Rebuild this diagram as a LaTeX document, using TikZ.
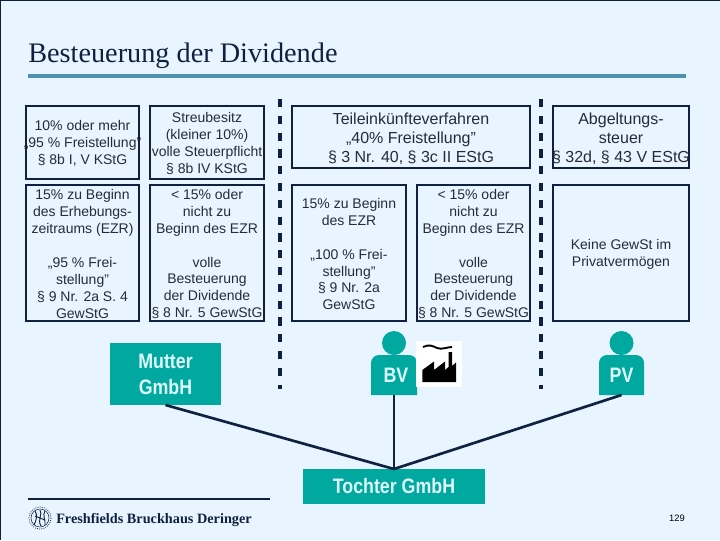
\documentclass[tikz,border=0pt]{standalone}
\usepackage{fontspec}
\setmainfont{Liberation Sans}
\newfontfamily\serifff{Liberation Serif}
\newfontfamily\condff[FakeStretch=0.85]{Liberation Sans}
\definecolor{bgc}{HTML}{E8F4FF}
\definecolor{navy}{HTML}{0E2240}
\definecolor{teal1}{HTML}{00A8A0}
\definecolor{rulec}{HTML}{4F8FAF}
\definecolor{tealtxt}{HTML}{DDFBFB}
\definecolor{txt}{HTML}{252B3A}
\tikzset{
  px/.style={x=0.75pt,y=-0.75pt},
  boxed/.style 2 args={draw=navy,line width=1.6pt,rectangle,inner sep=0pt,outer sep=0pt,minimum width=#1*0.75pt,minimum height=#2*0.75pt},
  lab/.style={align=center,inner sep=0pt,text=txt,yshift=-0.8pt,font=\fontsize{10.5}{12.7}\selectfont},
  labbig/.style={align=center,inner sep=0pt,text=txt,yshift=-1.2pt,font=\fontsize{12}{14.3}\selectfont},
  tealbox/.style 2 args={fill=teal1,inner sep=0pt,outer sep=0pt,minimum width=#1*0.75pt,minimum height=#2*0.75pt,align=center,text=tealtxt,font=\condff\bfseries\fontsize{15.7}{19.5}\selectfont},
  person/.style={fill=teal1,draw=none},
  personbody/.style={inner sep=0pt,outer sep=0pt,minimum width=34.5pt,minimum height=30pt,text=tealtxt,font=\condff\bfseries\fontsize{15.7}{19.5}\selectfont},
  divider/.style={draw=navy,line width=2.3pt,dash pattern=on 6.2pt off 6.4pt},
  conn/.style={draw=navy,line width=2pt},
}
\begin{document}
\begin{tikzpicture}[px]
\useasboundingbox (0,0) rectangle (720,540);
\fill[bgc] (0,0) rectangle (720,540);
\draw[navy,line width=1pt] (0,540) -- (0,0) -- (720,0);
% title
\node[anchor=base west,inner sep=0pt,text=navy,font=\serifff\fontsize{21.2}{25}\selectfont] (title) at (28,62) {Besteuerung der Dividende};
\coordinate (ruleL) at (28,76);
\coordinate (ruleR) at (686,76);
\draw[rulec,line width=2.6pt] (ruleL) -- (ruleR);
% dividers
\coordinate (d1t) at (280,99); \coordinate (d1b) at (280,389);
\coordinate (d2t) at (541,99); \coordinate (d2b) at (541,389);
\draw[divider] (d1t) -- (d1b);
\draw[divider] (d2t) -- (d2b);
% boxes
\node[boxed={113}{73}] (a) at (82.5,142.5) {};
\node[lab] (at) at (a) {10\% oder mehr\\„95 \% Freistellung”\\§ 8b I, V KStG};
\node[boxed={114}{73}] (b) at (207,142.5) {};
\node[lab] (bt) at (b) {Streubesitz\\(kleiner 10\%)\\volle Steuerpflicht\\§ 8b IV KStG};
\node[boxed={113}{136}] (c) at (82.5,253) {};
\node[lab] (ct) at (c) {15\% zu Beginn\\des Erhebungs-\\zeitraums (EZR)\\\mbox{}\\„95 \% Frei-\\stellung”\\§ 9 Nr. 2a S. 4\\GewStG};
\node[boxed={114}{136}] (d) at (207,253) {};
\node[lab] (dt) at (d) {< 15\% oder\\nicht zu\\Beginn des EZR\\\mbox{}\\volle\\Besteuerung\\der Dividende\\§ 8 Nr. 5 GewStG};
\node[boxed={238}{62}] (e) at (411,137) {};
\node[labbig] (et) at (e) {Teileinkünfteverfahren\\„40\% Freistellung”\\§ 3 Nr. 40, § 3c II EStG};
\node[boxed={136}{62}] (f) at (621,137) {};
\node[labbig] (ft) at (f) {Abgeltungs-\\steuer\\§ 32d, § 43 V EStG};
\node[boxed={114}{136}] (g) at (349,253) {};
\node[lab] (gt) at (g) {15\% zu Beginn\\des EZR\\\mbox{}\\„100 \% Frei-\\stellung”\\§ 9 Nr. 2a\\GewStG};
\node[boxed={113}{136}] (h) at (473.5,253) {};
\node[lab] (ht) at (h) {< 15\% oder\\nicht zu\\Beginn des EZR\\\mbox{}\\volle\\Besteuerung\\der Dividende\\§ 8 Nr. 5 GewStG};
\node[boxed={136}{136}] (i) at (621,253) {};
\node[lab] (it) at (i) {Keine GewSt im\\Privatvermögen};
% teal boxes
\node[tealbox={111}{62}] (mutter) at (165.5,374) {Mutter\\GmbH};
\node[tealbox={182}{35}] (tochter) at (394,486.5) {Tochter GmbH};
% persons
\fill[person] (394,343) circle (12);
\fill[person] (371,395) -- (371,363) arc[start angle=180,end angle=270,radius=8] -- (409,355) arc[start angle=270,end angle=360,radius=8] -- (417,395) -- cycle;
\node[personbody] (bv) at (394,375) {\raisebox{-2pt}{\hspace{3pt}BV}};
\fill[person] (621.5,343) circle (12);
\fill[person] (599,395) -- (599,363) arc[start angle=180,end angle=270,radius=8] -- (636,355) arc[start angle=270,end angle=360,radius=8] -- (644,395) -- cycle;
\node[personbody] (pv) at (621.5,375) {\raisebox{-2pt}{PV}};
% connectors
\coordinate (join) at (394,469);
\draw[conn] (mutter.south) -- (join);
\draw[conn] (bv.south) -- (join);
\draw[conn] (pv.south) -- (join);
% factory
\fill[white] (416,341) rectangle (462,387);
\fill[black] (422.3,382) -- (422.3,370) -- (434,361.5) -- (434,370) -- (445,361.5) -- (445,370) -- (448.5,367) -- (448.5,352) -- (452,352) -- (452,366) -- (456,362.5) -- (456,382) -- cycle;
\draw[black,line width=1.4pt] (423,347) .. controls (429,344) and (433,346) .. (437,348) .. controls (442,350) and (447,347) .. (452,347);
% footer
\coordinate (fL) at (28,498.5);
\coordinate (fR) at (270,498.5);
\draw[navy,line width=1.5pt] (fL) -- (fR);
\draw[navy,line width=0.6pt,densely dotted] (40,518) circle (11);
\draw[navy,line width=0.4pt] (40,518) circle (9);
\draw[navy,line width=0.7pt] (35,511) .. controls (38,515) and (36,521) .. (34,525);
\draw[navy,line width=0.7pt] (40,510) .. controls (43,514) and (37,520) .. (41,526);
\draw[navy,line width=0.7pt] (45,511) .. controls (42,515) and (46,521) .. (45,525);
\draw[navy,line width=0.7pt] (35,516) -- (45,520);
\node[anchor=base west,inner sep=0pt,text=navy,font=\serifff\bfseries\fontsize{10.7}{12}\selectfont] (firm) at (56,523) {Freshfields Bruckhaus Deringer};
\node[inner sep=0pt,text=black,font=\fontsize{7}{8}\selectfont] (pagenum) at (677,518) {129};
\end{tikzpicture}
\end{document}
